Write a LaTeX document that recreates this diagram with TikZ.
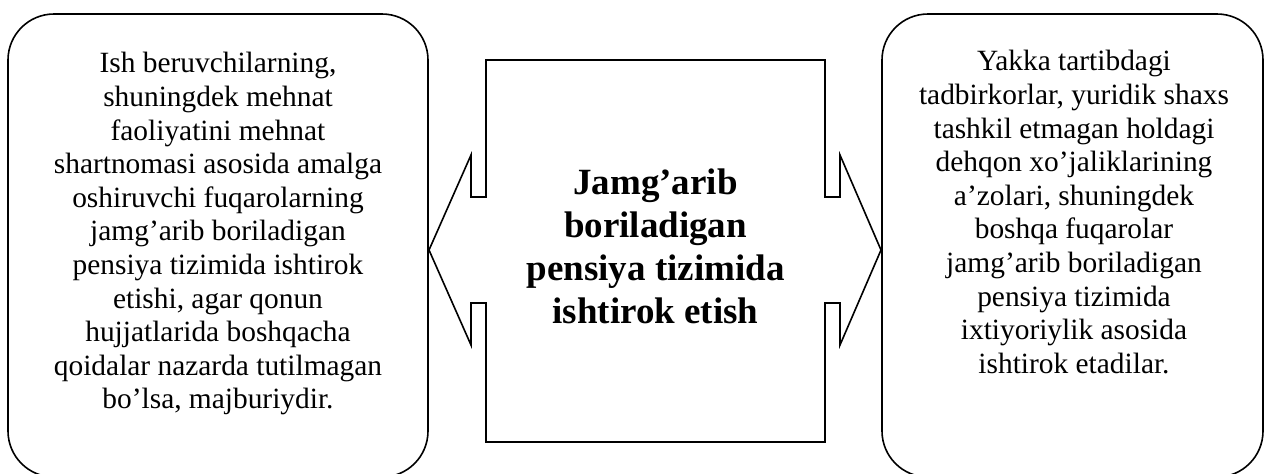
\documentclass[tikz,border=0pt]{standalone}
\usepackage{fontspec}
\setmainfont{Liberation Serif}

\tikzset{
	sidebox/.style={line width=0.8pt, rounded corners=23pt},
	sidetext/.style={align=center, inner sep=0pt, anchor=north, font=\fontsize{14.7}{16.8}\selectfont},
	midtext/.style={align=center, inner sep=0pt, anchor=north, font=\bfseries\fontsize{18.5}{21.5}\selectfont},
}

\begin{document}
\begin{tikzpicture}[x=0.5pt, y=-0.5pt]
		%%%%% START %%%%%
		\useasboundingbox (0, 0) rectangle (1264, 473);
		
		% side boxes
		\draw[sidebox] (8, 14) rectangle (428, 477);
		\draw[sidebox] (882, 14) rectangle (1263, 477);
		
		% middle box with two arrows
		\draw[line width=0.8pt] (486, 60) -- (825, 60) -- (825, 197) -- (840, 197) -- (840, 155)
			-- (881, 250) -- (840, 345) -- (840, 303) -- (825, 303) -- (825, 442)
			-- (486, 442) -- (486, 303) -- (471, 303) -- (471, 345) -- (429, 250)
			-- (471, 155) -- (471, 197) -- (486, 197) -- cycle;
		
		\node[sidetext] (lefttext) at (218, 52) {Ish beruvchilarning,\\ shuningdek mehnat\\ faoliyatini mehnat\\ shartnomasi asosida amalga\\ oshiruvchi fuqarolarning\\ jamg’arib boriladigan\\ pensiya tizimida ishtirok\\ etishi, agar qonun\\ hujjatlarida boshqacha\\ qoidalar nazarda tutilmagan\\ bo’lsa, majburiydir.};
		
		\node[midtext] (midtext) at (655.5, 168) {Jamg’arib\\ boriladigan\\ pensiya tizimida\\ ishtirok etish};
		
		\node[sidetext] (righttext) at (1074, 50) {Yakka tartibdagi\\ tadbirkorlar, yuridik shaxs\\ tashkil etmagan holdagi\\ dehqon xo’jaliklarining\\ a’zolari, shuningdek\\ boshqa fuqarolar\\ jamg’arib boriladigan\\ pensiya tizimida\\ ixtiyoriylik asosida\\ ishtirok etadilar.};
		
		%%%%% END %%%%%
	\end{tikzpicture}
\end{document}
